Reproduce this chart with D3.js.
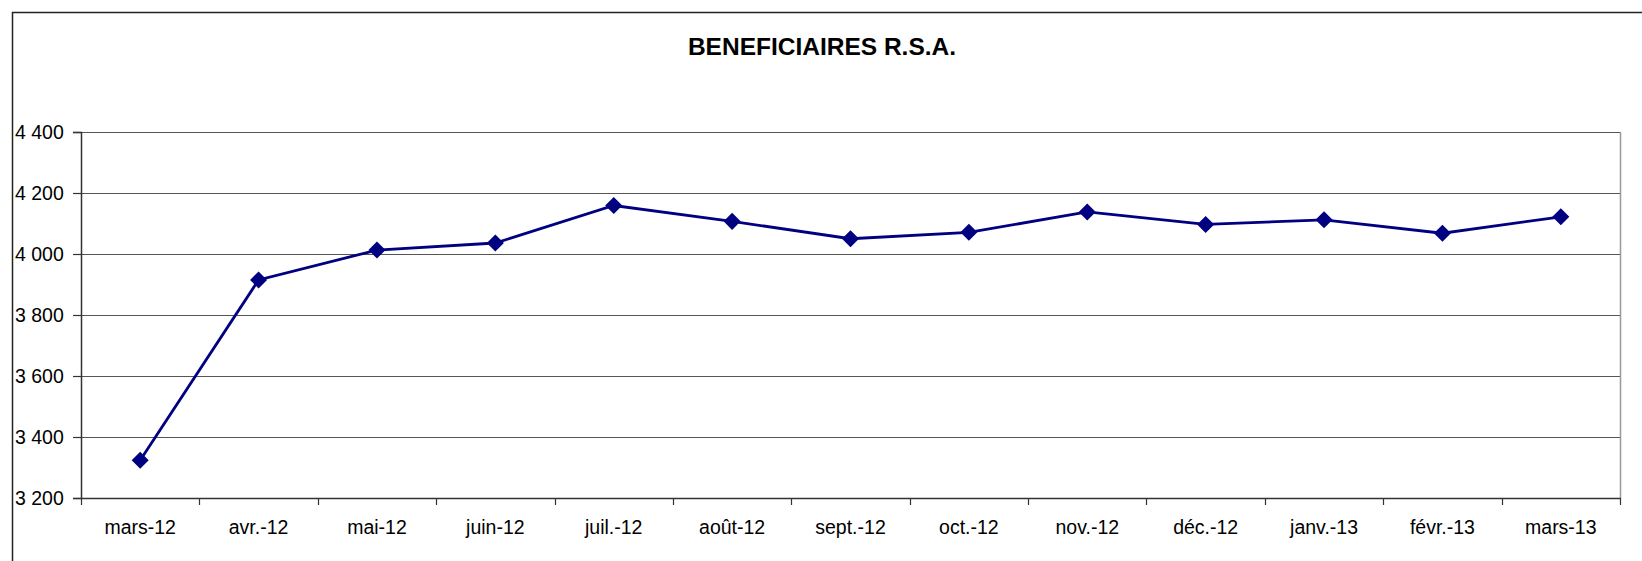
<!DOCTYPE html>
<html lang="fr">
<head>
    <meta charset="UTF-8">
    <title>BENEFICIAIRES R.S.A.</title>
    <script src="https://d3js.org/d3.v7.min.js"></script>
    <style>
        body {
            margin: 0;
            padding: 0;
            overflow: hidden;
            background-color: #fff;
        }
        svg text {
            font-family: "Liberation Sans", Arial, sans-serif;
            fill: #000;
        }
    </style>
</head>
<body>
    <div id="chart"></div>
    <script>
        // Data
        const months = ["mars-12", "avr.-12", "mai-12", "juin-12", "juil.-12", "août-12", "sept.-12",
                        "oct.-12", "nov.-12", "déc.-12", "janv.-13", "févr.-13", "mars-13"];
        const beneficiaires = [3324, 3915, 4013, 4036, 4159, 4107, 4050, 4071, 4138, 4097, 4112, 4068, 4122];
        const yTicks = [3200, 3400, 3600, 3800, 4000, 4200, 4400];
        const title = "BENEFICIAIRES R.S.A.";

        const width = 1642;
        const height = 561;
        const margin = {top: 132, right: 22, bottom: 63, left: 81};

        const svg = d3.select("#chart")
            .append("svg")
            .attr("width", width)
            .attr("height", height);

        // outer frame (runs off the right and bottom edges)
        svg.append("rect")
            .attr("x", 12.5)
            .attr("y", 12.5)
            .attr("width", width)
            .attr("height", height)
            .attr("fill", "none")
            .attr("stroke", "#222")
            .attr("stroke-width", 1.5);

        svg.append("text")
            .attr("x", 822)
            .attr("y", 55)
            .attr("text-anchor", "middle")
            .style("font-size", "24.5px")
            .style("font-weight", "bold")
            .text(title);

        const x = d3.scaleBand()
            .domain(months)
            .range([margin.left, width - margin.right])
            .padding(0);

        const y = d3.scaleLinear()
            .domain([3200, 4400])
            .range([height - margin.bottom, margin.top]);

        const fr = d3.formatLocale({decimal: ",", thousands: " ", grouping: [3], currency: ["", " €"]});
        const fmt = fr.format(",d");

        // horizontal gridlines
        svg.append("g")
            .selectAll("line")
            .data(yTicks.slice(1))
            .enter().append("line")
            .attr("x1", margin.left)
            .attr("x2", width - margin.right)
            .attr("y1", d => Math.round(y(d)) + 0.5)
            .attr("y2", d => Math.round(y(d)) + 0.5)
            .attr("stroke", "#555")
            .attr("stroke-width", 1.2);

        // right border of plot area
        svg.append("line")
            .attr("x1", width - margin.right + 0.5)
            .attr("x2", width - margin.right + 0.5)
            .attr("y1", y(4400))
            .attr("y2", y(3200))
            .attr("stroke", "#999")
            .attr("stroke-width", 1.5);

        // y axis
        const yAxis = svg.append("g")
            .attr("transform", `translate(${margin.left},0)`)
            .call(d3.axisLeft(y).tickValues(yTicks).tickFormat(fmt).tickSizeOuter(0).tickSize(8).tickPadding(8));
        yAxis.select(".domain").attr("stroke", "#333").attr("stroke-width", 1.5);
        yAxis.selectAll(".tick line").attr("stroke", "#333").attr("stroke-width", 1.2);
        yAxis.selectAll("text")
            .attr("text-anchor", "start")
            .attr("x", 15 - margin.left)
            .style("font-size", "19.5px")
            .style("font-family", "'Liberation Sans', Arial, sans-serif")
            .attr("fill", "#000");

        // x axis
        const xAxis = svg.append("g")
            .attr("transform", `translate(0,${height - margin.bottom})`)
            .call(d3.axisBottom(x).tickSize(0).tickSizeOuter(0).tickPadding(22));
        xAxis.select(".domain").attr("stroke", "#333").attr("stroke-width", 1.5);
        xAxis.selectAll("text")
            .style("font-size", "19.5px")
            .style("font-family", "'Liberation Sans', Arial, sans-serif")
            .attr("fill", "#000");

        // tick marks between categories
        const bounds = months.map(m => x(m)).concat([x(months[months.length - 1]) + x.bandwidth()]);
        svg.append("g")
            .selectAll("line")
            .data(bounds)
            .enter().append("line")
            .attr("x1", d => Math.round(d) + 0.5)
            .attr("x2", d => Math.round(d) + 0.5)
            .attr("y1", height - margin.bottom)
            .attr("y2", height - margin.bottom + 7)
            .attr("stroke", "#333")
            .attr("stroke-width", 1.2);

        // line
        const line = d3.line()
            .x((d, i) => x(months[i]) + x.bandwidth() / 2)
            .y(d => y(d));

        svg.append("path")
            .datum(beneficiaires)
            .attr("d", line)
            .attr("fill", "none")
            .attr("stroke", "#000080")
            .attr("stroke-width", 2.8);

        // diamond markers
        svg.selectAll(".dot")
            .data(beneficiaires)
            .enter().append("path")
            .attr("class", "dot")
            .attr("d", d3.symbol().type(d3.symbolDiamond2).size(185))
            .attr("transform", (d, i) => `translate(${x(months[i]) + x.bandwidth() / 2},${y(d)})`)
            .attr("fill", "#000080");
    </script>
</body>
</html>
